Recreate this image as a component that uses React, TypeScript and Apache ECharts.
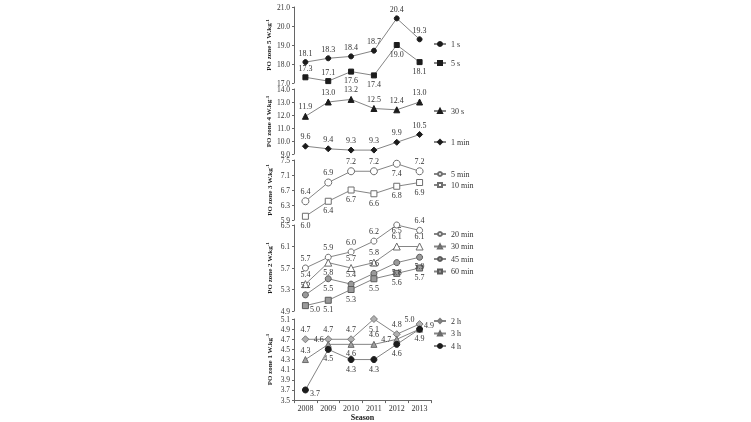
import React, { useEffect, useRef } from 'react';
import * as echarts from 'echarts';

const seasons = ['2008', '2009', '2010', '2011', '2012', '2013'];

const po1s = [18.1, 18.3, 18.4, 18.7, 20.4, 19.3];
const po5s = [17.3, 17.1, 17.6, 17.4, 19.0, 18.1];
const po30s = [11.9, 13.0, 13.2, 12.5, 12.4, 13.0];
const po1min = [9.6, 9.4, 9.3, 9.3, 9.9, 10.5];
const po5min = [6.4, 6.9, 7.2, 7.2, 7.4, 7.2];
const po10min = [6.0, 6.4, 6.7, 6.6, 6.8, 6.9];
const po20min = [5.7, 5.9, 6.0, 6.2, 6.5, 6.4];
const po30min = [5.4, 5.8, 5.7, 5.8, 6.1, 6.1];
const po45min = [5.2, 5.5, 5.4, 5.6, 5.8, 5.9];
const po60min = [5.0, 5.1, 5.3, 5.5, 5.6, 5.7];
const po2h = [4.7, 4.7, 4.7, 5.1, 4.8, 5.0];
const po3h = [4.3, 4.6, 4.6, 4.6, 4.7, 4.9];
const po4h = [3.7, 4.5, 4.3, 4.3, 4.6, 4.9];

const zoneTitles = ['PO zone 5 W.kg', 'PO zone 4 W.kg', 'PO zone 3 W.kg', 'PO zone 2 W.kg', 'PO zone 1 W.kg'];
const yMins = [17.0, 9.0, 5.9, 4.9, 3.5];
const yMaxs = [21.0, 14.0, 7.5, 6.5, 5.1];
const ySteps = [1.0, 1.0, 0.4, 0.4, 0.2];
const xTitle = 'Season';

// layout (styles)
const panelTops = [7, 89, 160, 225, 319];
const panelHeights = [76, 65, 60, 86, 82];
const legendTops = [39, 106, 169, 229, 316];
const legendGaps = [9, 21, 1, 2.5, 2.5];

const FONT = '"Liberation Serif", "DejaVu Serif", serif';
const LINE = '#858585';
const BLACK = '#1c1c1c';
const TXT = '#333333';

type S = {
  name: string;
  data: number[];
  panel: number;
  symbol: string;
  size: number;
  fill: string;
  stroke: string;
  labels: string[];
};

const seriesDefs: S[] = [
  { name: '1 s', data: po1s, panel: 0, symbol: 'circle', size: 5, fill: BLACK, stroke: BLACK, labels: ['t', 't', 't', 't', 't', 't'] },
  { name: '5 s', data: po5s, panel: 0, symbol: 'rect', size: 5, fill: BLACK, stroke: BLACK, labels: ['t', 't', 'b', 'b', 'b', 'b'] },
  { name: '30 s', data: po30s, panel: 1, symbol: 'triangle', size: 6, fill: BLACK, stroke: BLACK, labels: ['t', 't', 't', 't', 't', 't'] },
  { name: '1 min', data: po1min, panel: 1, symbol: 'diamond', size: 6, fill: BLACK, stroke: BLACK, labels: ['t', 't', 't', 't', 't', 't'] },
  { name: '5 min', data: po5min, panel: 2, symbol: 'circle', size: 7, fill: '#ffffff', stroke: '#6e6e6e', labels: ['t', 't', 't', 't', 'b', 't'] },
  { name: '10 min', data: po10min, panel: 2, symbol: 'rect', size: 6, fill: '#ffffff', stroke: '#6e6e6e', labels: ['b', 'b', 'b', 'b', 'b', 'b'] },
  { name: '20 min', data: po20min, panel: 3, symbol: 'circle', size: 6, fill: '#ffffff', stroke: '#6e6e6e', labels: ['t', 't', 't', 't', 'bi', 't'] },
  { name: '30 min', data: po30min, panel: 3, symbol: 'triangle', size: 7, fill: '#ffffff', stroke: '#6e6e6e', labels: ['t', 'b', 't', 't', 't', 't'] },
  { name: '45 min', data: po45min, panel: 3, symbol: 'circle', size: 6, fill: '#9a9a9a', stroke: '#5a5a5a', labels: ['t', 'b', 't', 't', 'b', 'b'] },
  { name: '60 min', data: po60min, panel: 3, symbol: 'rect', size: 6, fill: '#9a9a9a', stroke: '#5a5a5a', labels: ['rb', 'b', 'b', 'b', 'b', 'b'] },
  { name: '2 h', data: po2h, panel: 4, symbol: 'diamond', size: 7, fill: '#b0b0b0', stroke: '#7a7a7a', labels: ['t', 't', 't', 'b', 't', 'lt'] },
  { name: '3 h', data: po3h, panel: 4, symbol: 'triangle', size: 6, fill: '#a0a0a0', stroke: '#6a6a6a', labels: ['t', 'lt', 'b', 't', 'l', 'rt'] },
  { name: '4 h', data: po4h, panel: 4, symbol: 'circle', size: 6, fill: BLACK, stroke: BLACK, labels: ['rb', 'b', 'b', 'b', 'b', 'b'] },
];

function labelPos(code: string): any {
  switch (code) {
    case 't': return { position: 'top' };
    case 'b': return { position: 'bottom' };
    case 'bi': return { position: 'bottom', offset: [0, -4] };
    case 'l': return { position: 'left' };
    case 'r': return { position: 'right' };
    case 'rb': return { position: 'right', offset: [-1, 4] };
    case 'lt': return { position: 'left', offset: [1, -5] };
    case 'rt': return { position: 'right', offset: [-1, -4] };
    default: return { position: 'top' };
  }
}

export default function App() {
  const ref = useRef<HTMLDivElement>(null);
  useEffect(() => {
    if (!ref.current) return;
    const chart = echarts.init(ref.current, undefined, { renderer: 'svg' });
    const grids = panelTops.map((t, i) => ({ left: 294, width: 137, top: t, height: panelHeights[i] }));
    const xAxes = grids.map((_, i) => {
      const last = i === grids.length - 1;
      return {
        type: 'category',
        gridIndex: i,
        data: seasons,
        boundaryGap: true,
        show: last,
        axisLine: { show: last, lineStyle: { color: '#666', width: 1 } },
        axisTick: { show: last, length: 3, lineStyle: { color: '#666' } },
        axisLabel: { show: last, fontFamily: FONT, fontSize: 8, color: TXT, margin: 4 },
        name: last ? xTitle : '',
        nameLocation: 'middle',
        nameGap: 12,
        nameTextStyle: { fontFamily: FONT, fontSize: 8, fontWeight: 'bold', color: '#222' },
      };
    });
    const yAxes = grids.map((_, i) => ({
      type: 'value',
      gridIndex: i,
      min: yMins[i],
      max: yMaxs[i],
      interval: ySteps[i],
      axisLine: { show: true, lineStyle: { color: '#666', width: 1 } },
      axisTick: { show: true, length: 2, lineStyle: { color: '#666' } },
      splitLine: { show: false },
      axisLabel: {
        fontFamily: FONT,
        fontSize: 7.5,
        color: TXT,
        margin: 4,
        formatter: (v: number) => v.toFixed(1),
      },
      name: zoneTitles[i] + '{sup|-1}',
      nameLocation: 'middle',
      nameRotate: 90,
      nameGap: 20,
      nameTextStyle: {
        fontFamily: FONT,
        fontSize: 7,
        fontWeight: 'bold',
        color: '#1a1a1a',
        rich: {
          sup: { fontFamily: FONT, fontSize: 5, fontWeight: 'bold', color: '#1a1a1a', verticalAlign: 'top', padding: [0, 0, 4, 0] },
        },
      },
    }));
    const series = seriesDefs.map((s) => ({
      type: 'line',
      name: s.name,
      xAxisIndex: s.panel,
      yAxisIndex: s.panel,
      symbol: s.symbol,
      symbolSize: s.size,
      showAllSymbol: true,
      color: s.fill,
      lineStyle: { color: LINE, width: 1 },
      itemStyle: { color: s.fill, borderColor: s.stroke, borderWidth: 1 },
      label: {
        show: true,
        fontFamily: FONT,
        fontSize: 8,
        color: TXT,
        distance: 2,
        formatter: (p: any) => Number(p.value).toFixed(1),
      },
      data: s.data.map((v, j) => ({ value: v, label: labelPos(s.labels[j]) })),
    }));
    const legends = panelTops.map((_, i) => ({
      show: true,
      orient: 'vertical',
      left: 433,
      top: legendTops[i],
      itemWidth: 12,
      itemHeight: 5,
      itemGap: legendGaps[i],
      padding: 0,
      textStyle: { fontFamily: FONT, fontSize: 8, color: TXT, lineHeight: 10 },
      data: seriesDefs.filter((s) => s.panel === i).map((s) => s.name),
      selectedMode: false,
    }));
    chart.setOption({
      animation: false,
      backgroundColor: '#ffffff',
      grid: grids,
      xAxis: xAxes,
      yAxis: yAxes,
      legend: legends,
      series,
    });
    return () => chart.dispose();
  }, []);
  return (
    <div
      ref={ref}
      style={{
        position: 'fixed',
        left: 0,
        top: 0,
        width: 751,
        height: 422,
        background: '#fff',
        filter: 'grayscale(100%)',
      }}
    />
  );
}
